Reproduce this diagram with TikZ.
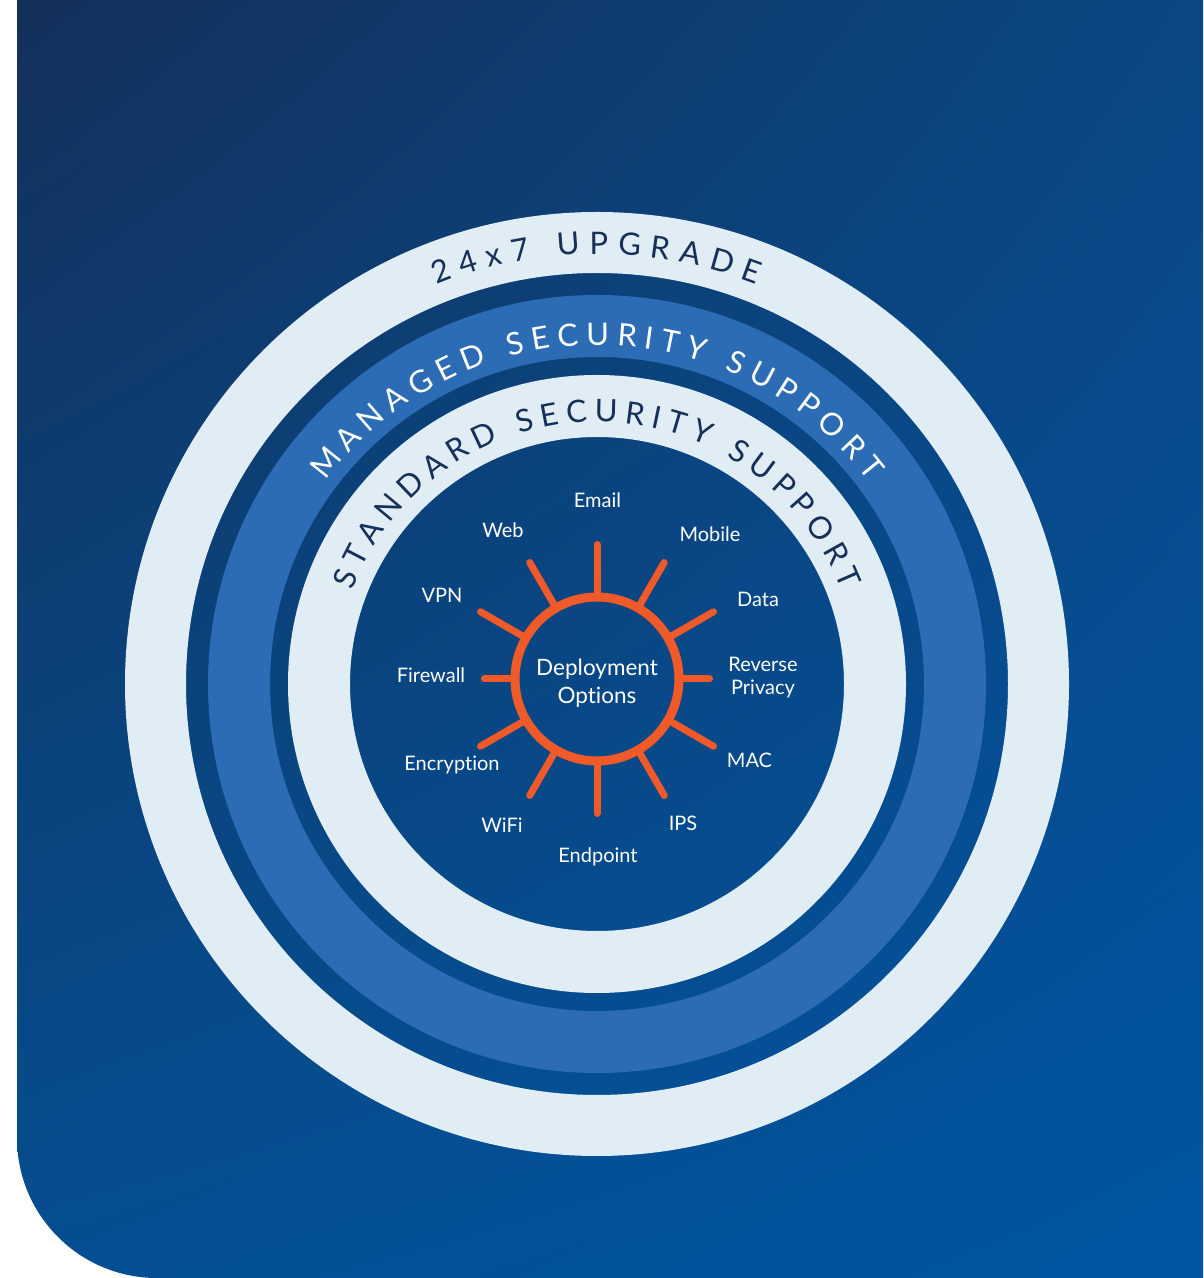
\documentclass[tikz,border=0pt]{standalone}
\usepackage{fontspec}
\setmainfont{Lato}[Ligatures=NoCommon]
\definecolor{PanelTop}{HTML}{14305A}
\definecolor{PanelRight}{HTML}{0B4784}
\definecolor{PanelLeft}{HTML}{044F91}
\definecolor{PanelBottom}{HTML}{0055A3}
\definecolor{RingLight}{HTML}{E0EDF4}
\definecolor{RingBlue}{HTML}{2B6CB5}
\definecolor{InkNavy}{HTML}{16305A}
\definecolor{HubOrange}{HTML}{F05A28}
\usetikzlibrary{decorations.text,calc,shadings}

\begin{document}
\begin{tikzpicture}[x=1pt,y=1pt,
lbl/.style={text=white,font=\fontsize{20}{23}\selectfont,anchor=base,inner sep=0pt},
spoke/.style={draw=HubOrange,line width=7pt,line cap=round},
hubnode/.style={circle,draw=HubOrange,line width=9pt,minimum size=164pt,inner sep=0pt},
hubtext/.style={align=center,text=white,inner sep=0pt,font=\fontsize{22.5}{28}\selectfont},
arctext/.style={decorate,decoration={text along path,text align=center,text={#1}}}
]
\useasboundingbox (0,0) rectangle (1203,1278);
\shade[upper left=PanelTop,upper right=PanelRight,lower left=PanelLeft,lower right=PanelBottom]
  (17,1278) -- (17,140) arc[start angle=180,end angle=270,radius=140] -- (1203,0) -- (1203,1278) -- cycle;
\coordinate (c) at (597,594);
% rings
\fill[RingLight,even odd rule] (c) circle[radius=472] (c) circle[radius=411];
\fill[RingBlue,even odd rule] (c) circle[radius=389] (c) circle[radius=327];
\fill[RingLight,even odd rule] (c) circle[radius=309] (c) circle[radius=247];
\path[arctext={|\fontsize{31}{31}\selectfont\color{InkNavy}\kern9.5pt|24x7 UPGRADE}]
  ($(c)+(180.7:430)$) arc[start angle=180.7,end angle=0.7,radius=430];
\path[arctext={|\fontsize{31}{31}\selectfont\color{white}\kern7.5pt|MANAGED SECURITY SUPPORT}]
  ($(c)+(180.6:339)$) arc[start angle=180.6,end angle=0.6,radius=339];
\path[arctext={|\fontsize{31}{31}\selectfont\color{InkNavy}\kern6.9pt|STANDARD SECURITY SUPPORT}]
  ($(c)+(180.7:262)$) arc[start angle=180.7,end angle=0.7,radius=262];
% hub
\node[hubnode] (hub) at (597,599) {};
\node[hubtext] (deploy) at (597,595) {Deployment\\Options};
\foreach \a in {30,60,90,120,150,210,240,270,300,330}
  \draw[spoke] (hub.\a) -- ++(\a:48);
\foreach \a in {0,180}
  \draw[spoke] (hub.\a) -- ++(\a:26);
\node[lbl] (email) at (597.5,770) {Email};
\node[lbl] (web) at (503,740) {Web};
\node[lbl] (mobile) at (710,736) {Mobile};
\node[lbl] (vpn) at (442,675) {VPN};
\node[lbl] (data) at (758,671) {Data};
\node[lbl] (firewall) at (431,595) {Firewall};
\node[lbl,anchor=center,align=center] (reverse) at (763,600) {Reverse\\Privacy};
\node[lbl] (encryption) at (452,507) {Encryption};
\node[lbl] (mac) at (749.5,510) {MAC};
\node[lbl] (wifi) at (502,445) {WiFi};
\node[lbl] (ips) at (683,447) {IPS};
\node[lbl] (endpoint) at (598,415) {Endpoint};
\end{tikzpicture}
\end{document}
